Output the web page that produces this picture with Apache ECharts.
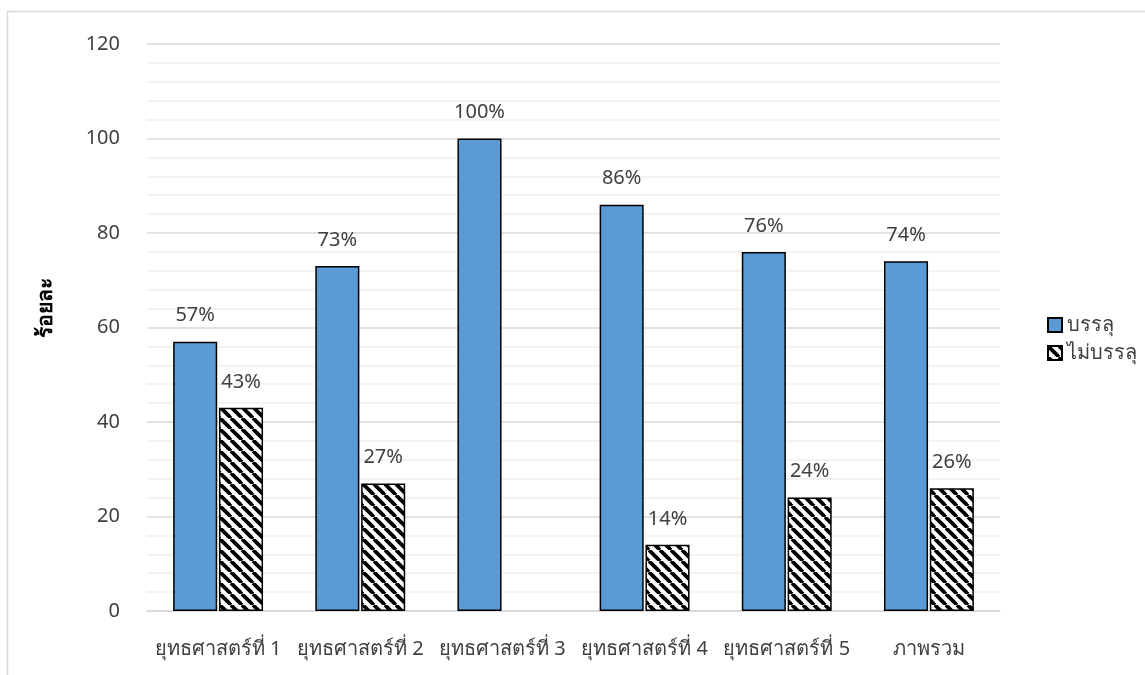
<!DOCTYPE html>
<html><head><meta charset="utf-8">
<script src="https://cdn.jsdelivr.net/npm/echarts@6/dist/echarts.min.js"></script>
<style>html,body{margin:0;padding:0;background:#fff;}#c{width:1145px;height:675px;}</style>
</head><body><div id="c"></div>
<script>
const categories = ['ยุทธศาสตร์ที่ 1','ยุทธศาสตร์ที่ 2','ยุทธศาสตร์ที่ 3','ยุทธศาสตร์ที่ 4','ยุทธศาสตร์ที่ 5','ภาพรวม'];
const seriesNames = ['บรรลุ','ไม่บรรลุ'];
const achieved = [57, 73, 100, 86, 76, 74];
const notAchieved = [43, 27, null, 14, 24, 26];
const yAxisTitle = 'ร้อยละ';

function makePattern(){
  const s = 11;
  const c = document.createElement('canvas');
  c.width = s; c.height = s;
  const g = c.getContext('2d');
  g.fillStyle = '#fff'; g.fillRect(0,0,s,s);
  g.strokeStyle = '#000'; g.lineWidth = 3.8;
  for (let k=-1;k<=1;k++){
    g.beginPath(); g.moveTo(k*s, 0); g.lineTo(k*s+s, s); g.stroke();
  }
  return c;
}
const pat = {image: makePattern(), repeat: 'repeat'};
const font = '"Noto Sans", "DejaVu Sans", sans-serif';

const chart = echarts.init(document.getElementById('c'));
chart.setOption({
  animation:false,
  backgroundColor:'#fff',
  textStyle:{fontFamily:font},
  graphic:[{type:'polyline', shape:{points:[[7.5,675],[7.5,11.5],[1145,11.5]]}, style:{stroke:'#d9d9d9', lineWidth:1.5, fill:null}}],
  grid:{left:147, right:145, top:44, bottom:64},
  legend:{orient:'vertical', left:1042, top:310, itemWidth:14, itemHeight:14, itemGap:8, icon:'rect',
    textStyle:{fontSize:20, color:'#404040', fontFamily:font}, data:seriesNames},
  xAxis:{type:'category', data:categories, axisTick:{show:false},
    axisLine:{lineStyle:{color:'#d9d9d9', width:1.5}},
    axisLabel:{fontSize:20, color:'#404040', margin:28, interval:0}},
  yAxis:{type:'value', min:0, max:120, interval:20,
    name:yAxisTitle, nameLocation:'middle', nameGap:90, nameRotate:90,
    nameTextStyle:{fontSize:21, fontWeight:'bold', color:'#000', padding:[0,0,0,40]},
    axisLine:{show:false}, axisTick:{show:false},
    axisLabel:{fontSize:20, color:'#404040', margin:27},
    splitLine:{lineStyle:{color:'#d9d9d9', width:1.5}},
    minorTick:{show:false, splitNumber:5},
    minorSplitLine:{show:true, lineStyle:{color:'#efefef', width:1.5}}},
  series:[
    {name:seriesNames[0], type:'bar', data:achieved, barWidth:'31%', barGap:'4%',
     itemStyle:{color:'#5b9bd5', borderColor:'#000', borderWidth:1.5},
     label:{show:true, position:'top', distance:16, fontSize:20, color:'#404040', formatter:'{c}%'}},
    {name:seriesNames[1], type:'bar', data:notAchieved, barWidth:'31%',
     itemStyle:{color:pat, borderColor:'#000', borderWidth:1.5},
     label:{show:true, position:'top', distance:16, fontSize:20, color:'#404040', formatter:'{c}%'}}
  ]
});
</script></body></html>
